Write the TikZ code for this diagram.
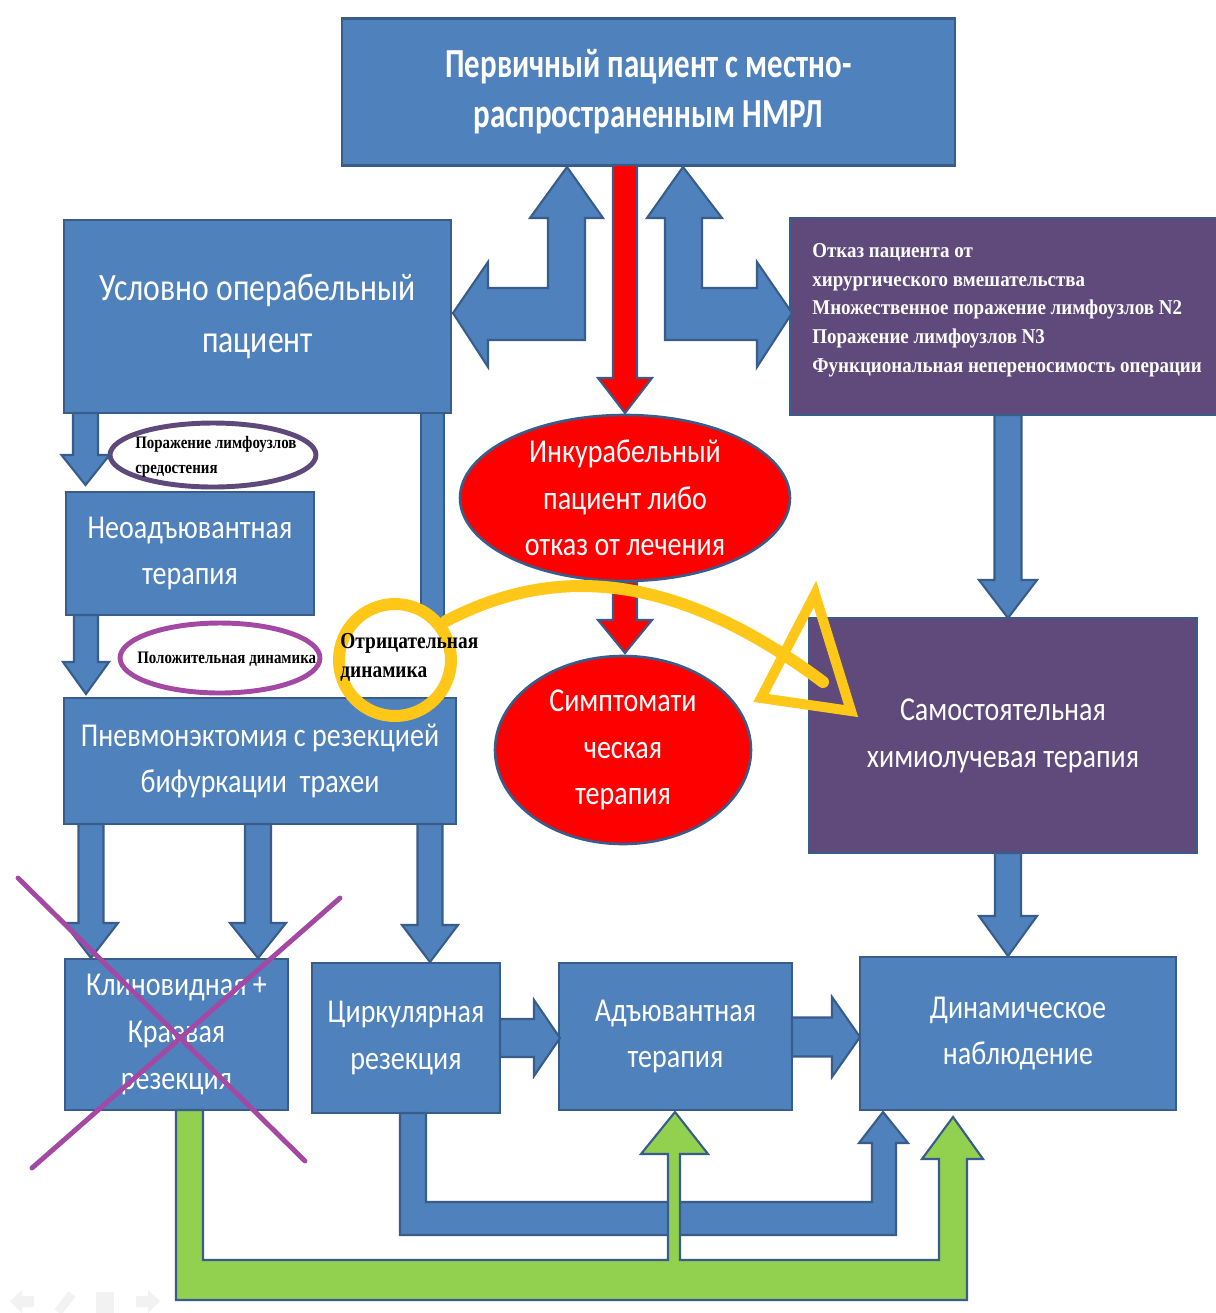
\documentclass[tikz,border=0pt]{standalone}
\usepackage{fontspec}
\setmainfont{Carlito}
\newfontfamily\cfont[FakeStretch=0.84]{Carlito}
\newfontfamily\ufont[FakeStretch=0.82]{Carlito}
\newfontfamily\tfont[FakeStretch=0.75]{Carlito}
\newfontfamily\sfontb[FakeStretch=0.9]{Liberation Serif}
\newfontfamily\nfontb[FakeStretch=0.85]{Liberation Serif}
\usetikzlibrary{shapes.geometric}
\definecolor{bfill}{HTML}{4F81BD}
\definecolor{bline}{HTML}{385D8A}
\definecolor{pfill}{HTML}{604A7B}
\definecolor{gfill}{HTML}{92D050}
\definecolor{yel}{HTML}{FFC819}
\definecolor{xmag}{HTML}{A349A4}
\definecolor{ellone}{HTML}{5F497A}
\newcommand\blockdown[7]{\filldraw[#1] ({#2-#5},{#3}) -- ({#2-#5},{#4-#7}) -- ({#2-#6},{#4-#7}) -- ({#2},{#4}) -- ({#2+#6},{#4-#7}) -- ({#2+#5},{#4-#7}) -- ({#2+#5},{#3}) -- cycle;}
\newcommand\blockright[7]{\filldraw[#1] ({#3},{#2-#5}) -- ({#4-#7},{#2-#5}) -- ({#4-#7},{#2-#6}) -- ({#4},{#2}) -- ({#4-#7},{#2+#6}) -- ({#4-#7},{#2+#5}) -- ({#3},{#2+#5}) -- cycle;}
\tikzset{
  box/.style={draw=bline,line width=1.5pt,fill=bfill,text=white,align=center,inner sep=0pt,font=\cfont\fontsize{19}{26.6}\selectfont},
  pbox/.style={box,fill=pfill},
  redell/.style={ellipse,draw=bline,line width=1.5pt,fill=red,text=white,align=center,inner sep=0pt,font=\cfont\fontsize{19}{26.6}\selectfont},
  barrow/.style={fill=bfill,draw=bline,line width=1.2pt,line join=miter},
  rarrow/.style={fill=red,draw=bline,line width=1.2pt,line join=miter},
  garrow/.style={fill=gfill,draw=bline,line width=1.2pt,line join=miter},
  serlabel/.style={text=black,align=left,inner sep=0pt,font=\nfontb\bfseries\fontsize{10}{14}\selectfont},
  navicon/.style={fill=black!5,draw=none}
}
\begin{document}
\begin{tikzpicture}[x=0.02cm,y=-0.02cm]
\useasboundingbox (0,0) rectangle (1216,1313);
\fill[white] (0,0) rectangle (1216,1313);

% vertical bar from the left box
\filldraw[barrow] (421,413) rectangle (444,700);
\fill[white] (395,660) circle (1.2cm);

% boxes
\node[box,minimum width=12.26cm,minimum height=2.94cm,font=\tfont\bfseries\fontsize{23.5}{28.3}\selectfont] (top) at (648.5,92) {Первичный пациент с местно-\\распространенным НМРЛ};
\node[box,minimum width=7.74cm,minimum height=3.86cm,font=\ufont\fontsize{22}{29.5}\selectfont] (usl) at (257.5,316.5) {Условно операбельный\\пациент};
\node[pbox,minimum width=8.56cm,minimum height=3.94cm] (otk) at (1004,316.5) {};
\node[serlabel,text=white,anchor=north west,font=\sfontb\bfseries\fontsize{12}{16.4}\selectfont] (otkt) at (812,243) {Отказ пациента от\\хирургического вмешательства\\Множественное поражение лимфоузлов N2\\Поражение лимфоузлов N3\\Функциональная непереносимость операции};
\node[box,minimum width=4.96cm,minimum height=2.46cm] (neo) at (190,553.5) {Неоадъювантная\\терапия};
\node[box,minimum width=7.84cm,minimum height=2.52cm] (pne) at (260,761) {Пневмонэктомия с резекцией\\бифуркации\ \ трахеи};
\node[pbox,minimum width=7.76cm,minimum height=4.70cm] (sam) at (1003,735.5) {Самостоятельная\\химиолучевая терапия};
\node[box,minimum width=4.46cm,minimum height=3.02cm] (kli) at (176.5,1034.5) {Клиновидная +\\Краевая\\резекция};
\node[box,minimum width=3.76cm,minimum height=3.00cm] (cir) at (406,1038) {Циркулярная\\резекция};
\node[box,minimum width=4.66cm,minimum height=2.94cm] (adj) at (675.5,1036.5) {Адъювантная\\терапия};
\node[box,minimum width=6.32cm,minimum height=3.06cm] (dyn) at (1018,1033.5) {Динамическое\\наблюдение};

% red ellipses
\node[redell,minimum width=6.6cm,minimum height=3.32cm] (inc) at (625,498) {Инкурабельный\\пациент либо\\отказ от лечения};
\node[redell,minimum width=5.12cm,minimum height=3.76cm] (sym) at (623,750) {Симптомати\\ческая\\терапия};

% label ellipses
\node[ellipse,draw=ellone,line width=2.8pt,minimum width=4.12cm,minimum height=1.28cm] (lym) at (213,455) {};
\node[serlabel,anchor=west] (lymt) at (135,457) {Поражение лимфоузлов\\средостения};
\node[ellipse,draw=xmag,line width=2.8pt,minimum width=4.0cm,minimum height=1.4cm] (pos) at (220,658) {};
\node[serlabel,anchor=west] (post) at (137,659) {Положительная динамика};

% left column arrows
\blockdown{barrow}{85.5}{413}{485}{12.5}{24}{30}
\blockdown{barrow}{86}{615}{694}{12}{23}{32}
\blockdown{barrow}{91}{824}{958}{12.5}{27}{35}
\blockdown{barrow}{258}{824}{958}{13}{28}{35}
\blockdown{barrow}{430}{824}{962}{12.5}{28}{37}
% red arrows
\blockdown{rarrow}{625}{165}{413}{12}{27}{35}
\blockdown{rarrow}{625}{582}{653}{12}{27}{33}
% right column
\blockdown{barrow}{1008}{415}{618}{13.5}{29}{38}
\blockdown{barrow}{1008}{853}{956}{13}{29}{40}
% bottom row
\blockright{barrow}{1038}{500}{560}{19}{38}{26}
\blockright{barrow}{1037}{792}{860}{19.5}{40}{28}

% double bent arrows from the top box
\filldraw[barrow] (567,167) -- (603,218) -- (585,218) -- (585,340) -- (488,340) -- (488,367) -- (453,313) -- (488,262) -- (488,288) -- (548,288) -- (548,218) -- (530,218) -- cycle;
\filldraw[barrow] (683,167) -- (722,218) -- (702,218) -- (702,288) -- (757,288) -- (757,262) -- (792,313) -- (757,367) -- (757,340) -- (665,340) -- (665,218) -- (647,218) -- cycle;

% blue U arrow
\filldraw[barrow] (400,1113) -- (426,1113) -- (426,1202) -- (872,1202) -- (872,1143) -- (859,1143) -- (883,1112) -- (908,1143) -- (896,1143) -- (896,1235) -- (400,1235) -- cycle;
% green U arrow with branch
\filldraw[garrow] (176,1110) -- (203,1110) -- (203,1260) -- (668,1260) -- (668,1154) -- (641,1154) -- (675,1112) -- (708,1154) -- (680,1154) -- (680,1260) -- (939,1260) -- (939,1159) -- (922,1159) -- (953,1117) -- (983,1159) -- (967,1159) -- (967,1300) -- (176,1300) -- cycle;

% yellow circle, label, curved arrow
\node[circle,draw=yel,line width=0.24cm,minimum size=2.24cm,inner sep=0pt] (neg) at (395,660) {};
\node[serlabel,anchor=west,font=\nfontb\bfseries\fontsize{13}{16.4}\selectfont] (negt) at (340,657.5) {Отрицательная\\динамика};
\draw[yel,line width=0.24cm,line cap=round] (446,621) .. controls (540,572) and (660,560) .. (823,682);
\draw[yel,line width=0.2cm,line join=miter] (815,594) -- (851,711) -- (761,698) -- cycle;

% crossing-out lines
\draw[xmag,line width=2.8pt,line cap=round] (18,878) -- (305,1161);
\draw[xmag,line width=2.8pt,line cap=round] (340,898) -- (32,1168);

% faint slide-show controls
\fill[navicon] (10,1301) -- (22,1290) -- (22,1296) -- (34,1296) -- (34,1307) -- (22,1307) -- (22,1313) -- cycle;
\draw[black!5,line width=5pt] (58,1312) -- (72,1294);
\fill[navicon] (96,1292) rectangle (114,1313);
\fill[navicon] (160,1301) -- (148,1290) -- (148,1296) -- (136,1296) -- (136,1307) -- (148,1307) -- (148,1313) -- cycle;
\end{tikzpicture}
\end{document}
